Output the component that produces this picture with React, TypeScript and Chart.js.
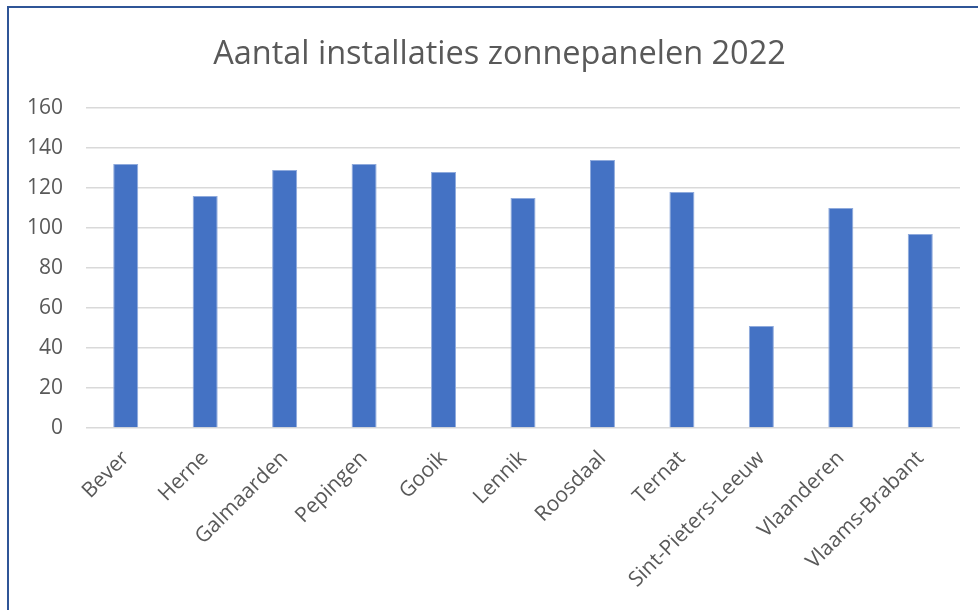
import React, { useEffect, useRef } from "react";
import { Chart, registerables } from "chart.js";

Chart.register(...registerables);

const categories: string[] = [
  "Bever",
  "Herne",
  "Galmaarden",
  "Pepingen",
  "Gooik",
  "Lennik",
  "Roosdaal",
  "Ternat",
  "Sint-Pieters-Leeuw",
  "Vlaanderen",
  "Vlaams-Brabant",
];

const installaties: number[] = [132, 116, 129, 132, 128, 115, 134, 118, 51, 110, 97];

const titleText = "Aantal installaties zonnepanelen 2022";
const yMin = 0;
const yMax = 160;
const yStep = 20;

const titleShift = {
  id: "titleShift",
  afterLayout(chart: any) {
    const t = chart.titleBlock;
    if (t) {
      t.left += 15;
      t.right += 15;
    }
  },
};

export default function App() {
  const canvasRef = useRef<HTMLCanvasElement | null>(null);

  useEffect(() => {
    if (!canvasRef.current) return;
    const chart = new Chart(canvasRef.current, {
      type: "bar",
      data: {
        labels: categories,
        datasets: [
          {
            label: titleText,
            data: installaties,
            backgroundColor: "#4472C4",
            borderColor: "#8FAADC",
            borderWidth: 1,
            categoryPercentage: 1,
            barPercentage: 0.315,
          },
        ],
      },
      plugins: [titleShift],
      options: {
        animation: false,
        responsive: false,
        maintainAspectRatio: false,
        layout: { padding: { left: 0, right: 18, top: 20, bottom: 0 } },
        plugins: {
          legend: { display: false },
          tooltip: { enabled: false },
          title: {
            display: true,
            text: titleText,
            color: "#595959",
            font: { family: "'Open Sans', sans-serif", size: 32.5, weight: "normal" },
            padding: { top: 7, bottom: 34 },
          },
        },
        scales: {
          x: {
            grid: { display: false },
            border: { display: false },
            ticks: {
              color: "#595959",
              font: { family: "'Open Sans', sans-serif", size: 21 },
              maxRotation: 45,
              minRotation: 45,
              autoSkip: false,
              padding: 10,
            },
            afterFit: (scale: any) => {
              scale.height = 182;
            },
          },
          y: {
            min: yMin,
            max: yMax,
            grid: { color: "#D9D9D9", lineWidth: 1.5, drawTicks: false },
            border: { display: false },
            ticks: {
              stepSize: yStep,
              color: "#595959",
              font: { family: "'Open Sans', sans-serif", size: 21 },
              padding: 23,
            },
            afterFit: (scale: any) => {
              scale.width = 77;
            },
          },
        },
      },
    });
    return () => chart.destroy();
  }, []);

  return (
    <div
      style={{
        position: "fixed",
        left: 7,
        top: 6,
        right: 0,
        bottom: 0,
        borderLeft: "2px solid #2F5597",
        borderTop: "2px solid #2F5597",
        background: "#fff",
        overflow: "hidden",
      }}
    >
      <canvas ref={canvasRef} width={969} height={602} style={{ display: "block" }} />
    </div>
  );
}
